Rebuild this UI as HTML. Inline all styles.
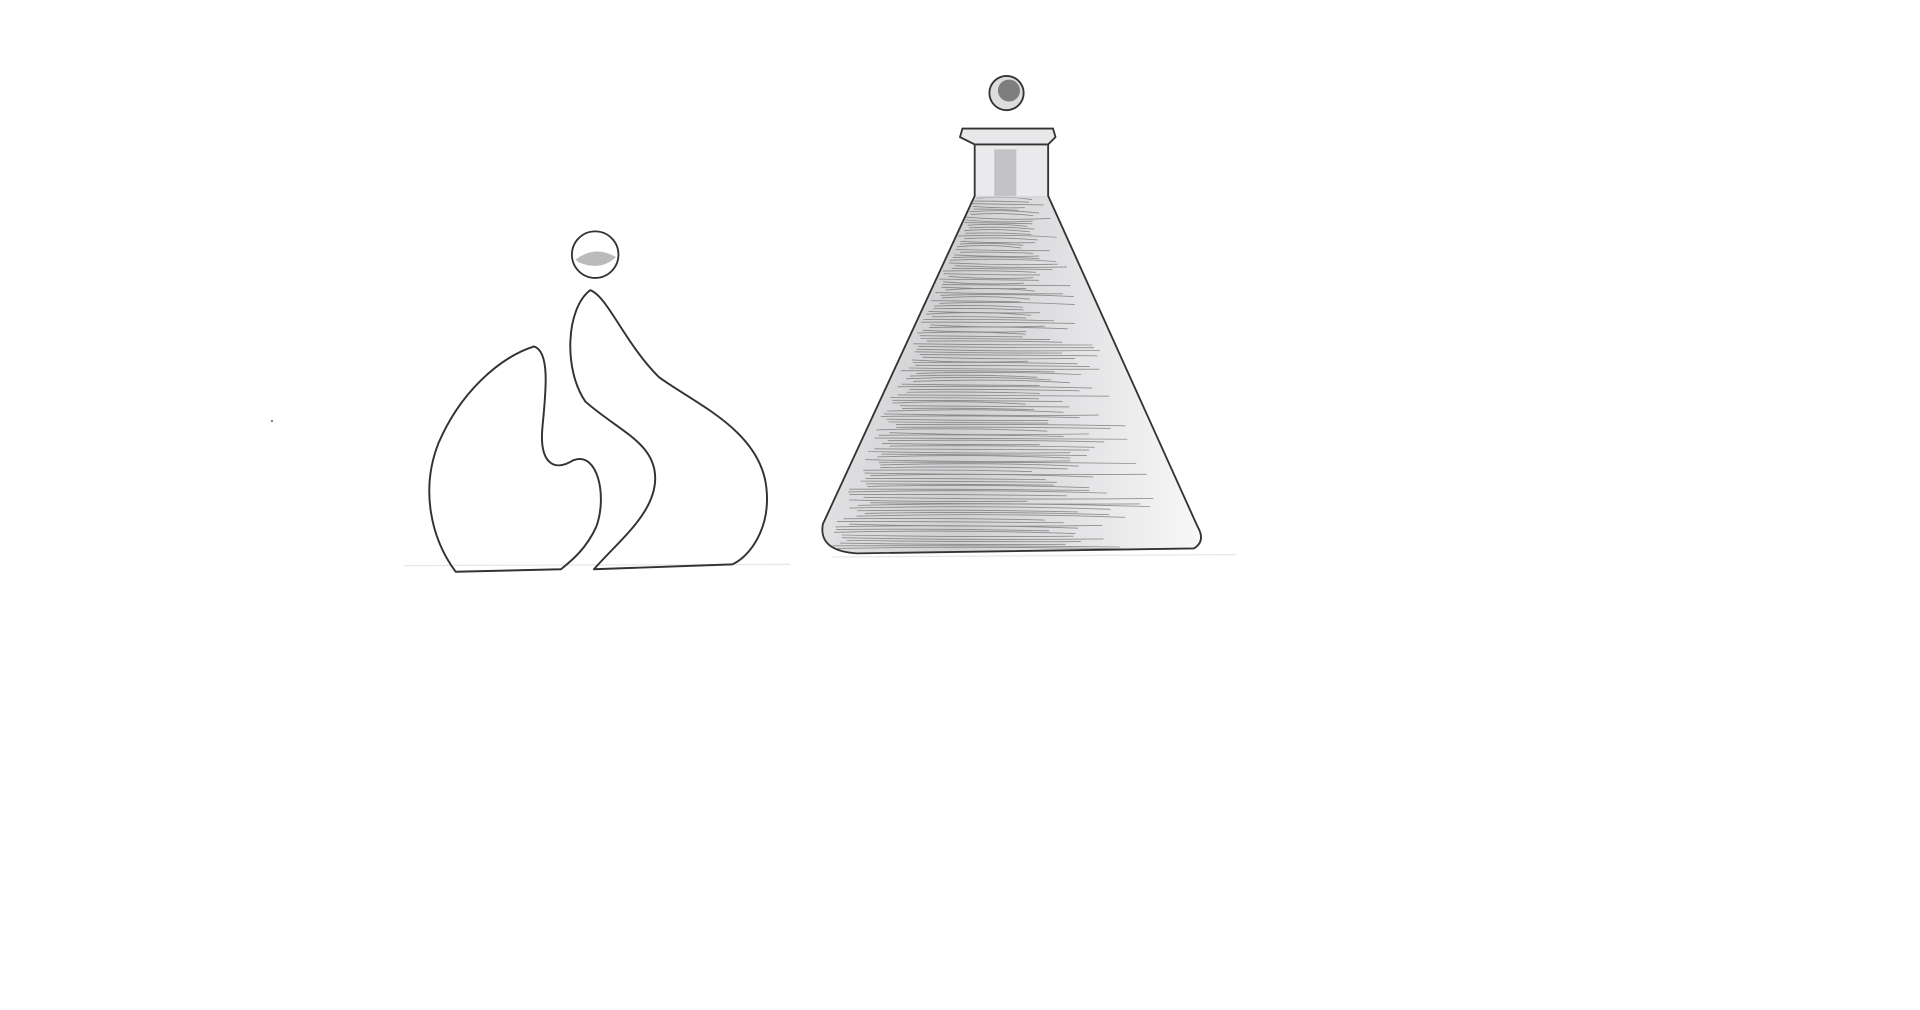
<!DOCTYPE html>
<html><head><meta charset="utf-8"><title>Sketch</title>
<style>
html,body{margin:0;padding:0;background:#fff;width:1920px;height:1010px;overflow:hidden}
svg{display:block}
</style></head>
<body>
<svg id="art" width="1920" height="1010" viewBox="0 0 1568 825" xmlns="http://www.w3.org/2000/svg">
  <defs>
    <linearGradient id="shade" x1="0" y1="0" x2="1" y2="0">
      <stop offset="0" stop-color="#c8c8cc"/>
      <stop offset="0.35" stop-color="#a9a9ad"/>
      <stop offset="0.6" stop-color="#c4c4c8"/>
      <stop offset="1" stop-color="#f2f2f4"/>
    </linearGradient>
    <clipPath id="cone"><path d="M796,160 L672,428 Q668,450 700,452 L975,448 Q985,442 978,430 L856,160 Z"/></clipPath>
  </defs>
  <g>
    <line x1="330" y1="462" x2="645" y2="461" stroke="#e4e6ee" stroke-width="1"/>
    <line x1="680" y1="455" x2="1010" y2="453" stroke="#e4e6ee" stroke-width="1"/>
  </g>
  <circle cx="222" cy="344" r="0.8" fill="#555"/>
  <g fill="none" stroke="#333" stroke-width="1.6" stroke-linejoin="round">
    <circle cx="486" cy="208" r="19" stroke-width="1.5"/>
    <path d="M470,212 Q486,200 503,210 Q490,222 472,214 Z" fill="#bbb" stroke="none"/>
    <path d="M372,467 C352,440 343,400 358,362 C376,320 408,292 436,283 C449,287 446,318 443,348 C440,378 452,386 468,376 C488,368 496,405 487,430 C478,450 464,460 458,465 Z"/>
    <path d="M485,465 C505,442 534,420 535,392 C536,362 505,352 478,328 C460,302 462,252 482,237 C496,242 510,280 538,308 C568,330 622,352 626,400 C629,432 612,455 598,461 Z"/>
  </g>
  <g>
    <path d="M796,160 L672,428 Q668,450 700,452 L975,448 Q985,442 978,430 L856,160 Z" fill="url(#shade)" opacity="0.55"/>
    <g id="hatch" clip-path="url(#cone)" stroke="#555" stroke-width="0.7" fill="none" opacity="0.6"></g>
    <rect x="796" y="117" width="60" height="45" fill="#d6d6da" opacity="0.5"/>
    <rect x="812" y="122" width="18" height="38" fill="#9a9a9e" opacity="0.5"/>
    <path d="M796,117 L796,160 L672,428 Q668,450 700,452 L975,448 Q985,442 978,430 L856,160 L856,117" fill="none" stroke="#333" stroke-width="1.5"/>
    <path d="M786,105 L860,105 L862,112 L856,118 L796,118 L784,112 Z" fill="#e8e8ea" stroke="#333" stroke-width="1.5"/>
    <circle cx="822" cy="76" r="14" fill="#ddd" stroke="#333" stroke-width="1.5"/>
    <circle cx="824" cy="74" r="9" fill="#555" opacity="0.7"/>
  </g>
</svg>
<script>
var g=document.getElementById('hatch');
var ns='http://www.w3.org/2000/svg';
var seed=7;function rnd(){seed=(seed*9301+49297)%233280;return seed/233280;}
for(var y=162;y<450;y+=2.2){
  var t=(y-160)/290;
  var left=796-124*t, right=856+122*t;
  var w=right-left;
  var x1=left+rnd()*w*0.08;
  var x2=left+w*(0.55+rnd()*0.4);
  var p=document.createElementNS(ns,'path');
  p.setAttribute('d','M'+x1.toFixed(1)+','+y.toFixed(1)+' Q'+((x1+x2)/2).toFixed(1)+','+(y-3+rnd()*6).toFixed(1)+' '+x2.toFixed(1)+','+(y+1).toFixed(1));
  
  
  g.appendChild(p);
}
</script>
</body></html>
